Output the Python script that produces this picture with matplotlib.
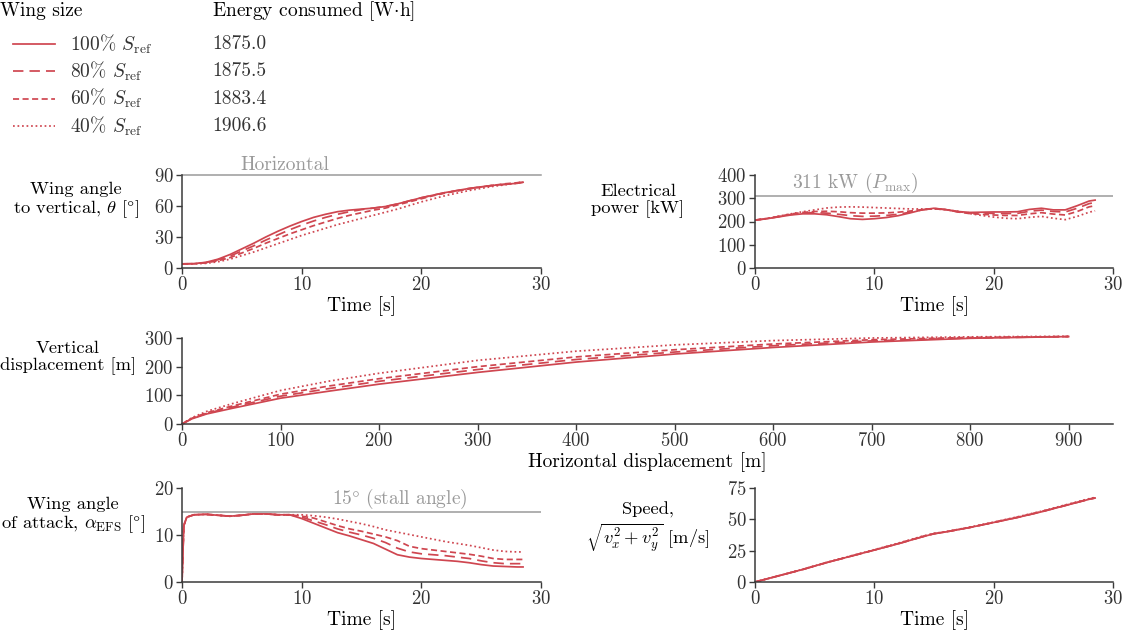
import matplotlib
matplotlib.use("Agg")
import matplotlib.pyplot as plt
from matplotlib.lines import Line2D

plt.rcParams['font.family'] = ['cmr10', 'DejaVu Serif']
plt.rcParams['mathtext.fontset'] = 'cm'
plt.rcParams['axes.formatter.use_mathtext'] = True

# ---- data ----
wing_labels = ['100%', '80%', '60%', '40%']
energy_wh = ['1875.0', '1875.5', '1883.4', '1906.6']

t = [0, 1, 2, 3, 4, 5, 6, 7, 8, 9, 10, 11, 12, 13, 14, 15, 16, 17, 18, 19,
     20, 21, 22, 23, 24, 25, 26, 27, 28, 28.5]

theta_100 = [4, 4.2, 5.5, 8.5, 13, 18.5, 24, 30, 35.5, 40.5, 45, 49, 52, 54.5, 56, 57,
             58, 59.5, 62, 65, 68, 70.5, 73, 75, 77, 78.5, 80, 81, 82, 83]
theta_80 = [4, 4.2, 5.2, 8, 11.5, 16.5, 21.5, 27, 32, 37, 41.5, 45.5, 49, 52, 54.5, 56.5,
            58, 59.5, 62, 65, 68, 70.5, 73, 75, 77, 78.5, 80, 81, 82, 83]
theta_60 = [4, 4.1, 5, 7, 10, 14.5, 19, 24, 28.5, 33, 37, 41, 44.5, 48, 51, 53.5,
            56, 58, 61, 64, 67, 70, 72.5, 74.5, 76.5, 78.5, 80, 81.5, 82.5, 83.5]
theta_40 = [4, 4, 4.5, 6, 8.5, 12, 15.5, 19.5, 23.5, 27.5, 31.5, 35, 38.5, 42, 45, 48,
            51, 54, 57, 60.5, 64, 67, 70, 72.5, 75, 77, 79, 80.5, 82, 83.5]

power_100 = [206, 212, 220, 228, 233, 233, 229, 221, 212, 209, 212, 217, 225, 237, 250, 257,
             251, 243, 239, 240, 241, 241, 242, 252, 257, 250, 250, 268, 288, 292]
power_80 = [206, 212, 221, 230, 236, 238, 236, 231, 225, 222, 223, 226, 231, 240, 250, 256,
            251, 242, 237, 236, 235, 234, 235, 244, 249, 243, 241, 257, 277, 282]
power_60 = [206, 213, 222, 232, 239, 243, 244, 242, 238, 236, 236, 237, 240, 245, 251, 255,
            251, 241, 234, 231, 228, 226, 226, 233, 238, 232, 228, 243, 263, 268]
power_40 = [206, 213, 223, 233, 242, 250, 258, 262, 263, 262, 260, 258, 256, 254, 254, 254,
            251, 244, 234, 226, 219, 214, 212, 218, 222, 214, 208, 222, 240, 246]

x_disp = [0, 10, 25, 50, 100, 150, 200, 300, 400, 500, 600, 700, 800, 900]
y_disp_100 = [0, 18, 35, 54, 90, 115, 139, 180, 216, 244, 267, 286, 299, 305]
y_disp_80 = [0, 19, 37, 58, 97, 124, 149, 190, 225, 251, 273, 290, 300, 305]
y_disp_60 = [0, 20, 39, 62, 104, 133, 158, 200, 234, 259, 279, 294, 302, 305]
y_disp_40 = [0, 22, 44, 70, 117, 150, 177, 222, 254, 276, 291, 300, 304, 306]

t_aoa = [0, 0.15, 0.4, 1, 2, 3, 4, 5, 6, 7, 8, 9, 10, 11, 12, 13, 14, 15, 16, 17, 18,
         19, 20, 21, 22, 23, 24, 25, 26, 27, 28, 28.5]
aoa_start = [0, 12, 13.8, 14.3, 14.4, 14.2, 14.0, 14.2, 14.5, 14.5, 14.3, 14.3]
aoa_100 = aoa_start + [13.5, 12.5, 11.5, 10.5, 9.8, 9.0, 8.2, 7.0, 5.8, 5.3, 5.0, 4.8,
                       4.6, 4.4, 4.1, 3.7, 3.4, 3.3, 3.2, 3.2]
aoa_80 = aoa_start + [13.8, 13.0, 12.2, 11.3, 10.6, 10.0, 9.3, 8.4, 7.2, 6.4, 6.0, 5.8,
                      5.6, 5.3, 5.0, 4.5, 4.1, 3.9, 3.9, 3.9]
aoa_60 = aoa_start + [14.0, 13.6, 12.8, 12.0, 11.3, 10.8, 10.2, 9.6, 8.8, 7.6, 7.1, 6.8,
                      6.5, 6.2, 5.9, 5.5, 5.0, 4.8, 4.8, 4.8]
aoa_40 = aoa_start + [14.3, 14.1, 13.8, 13.4, 12.9, 12.4, 11.8, 11.1, 10.6, 10.1, 9.6, 9.1,
                      8.6, 8.2, 7.8, 7.3, 6.8, 6.5, 6.4, 6.4]

t_speed = [0, 2, 4, 6, 8, 10, 12, 14, 15, 16, 18, 20, 22, 24, 26, 28, 28.5]
speed_100 = [0, 5, 10, 15.5, 20.5, 25.5, 30.5, 36, 38.5, 40, 43.5, 47.5, 51.5, 56, 61, 66, 67]
speed_80 = [0, 5, 10, 15.5, 20.5, 25.5, 30.5, 36, 38.5, 40, 43.5, 47.5, 51.5, 56, 61, 66, 67]
speed_60 = [0, 5, 10, 15.5, 20.5, 25.5, 30.7, 36.2, 38.6, 40, 43.5, 47.5, 51.7, 56.2, 61.2, 66.2, 67.2]
speed_40 = [0, 5, 10.2, 15.7, 20.8, 25.8, 31, 36.5, 38.8, 40.2, 43.8, 47.8, 52, 56.5, 61.5, 66.5, 67.5]

# ---- style ----
red = '#cf4650'
grey = '#9a9a9a'
dark = '#3a3a3a'
styles = ['-', (0, (6, 3.5)), (0, (3.5, 2)), (0, (1, 1.6))]
lw = 1.25
W, H = 1128, 636
fs = 14


def box(l, t_, r, b):
    return [l / W, 1 - b / H, (r - l) / W, (b - t_) / H]


def style_ax(ax):
    for s in ['top', 'right']:
        ax.spines[s].set_visible(False)
    for s in ['left', 'bottom']:
        ax.spines[s].set_color(dark)
        ax.spines[s].set_linewidth(1.1)
    ax.tick_params(colors=dark, labelcolor='#333333', labelsize=13.5, length=4, width=1, pad=2)


fig = plt.figure(figsize=(W / 100, H / 100), dpi=100)

ax_theta = fig.add_axes(box(182, 175, 541, 268))
ax_power = fig.add_axes(box(755, 175, 1113, 268))
ax_disp = fig.add_axes(box(182, 338, 1113, 424))
ax_aoa = fig.add_axes(box(182, 488, 541, 582))
ax_speed = fig.add_axes(box(755, 488, 1113, 582))

for ys, ls in zip([theta_100, theta_80, theta_60, theta_40], styles):
    ax_theta.plot(t, ys, color=red, ls=ls, lw=lw)
for ys, ls in zip([power_100, power_80, power_60, power_40], styles):
    ax_power.plot(t, ys, color=red, ls=ls, lw=lw)
for ys, ls in zip([y_disp_100, y_disp_80, y_disp_60, y_disp_40], styles):
    ax_disp.plot(x_disp, ys, color=red, ls=ls, lw=lw, clip_on=False)
for ys, ls in zip([aoa_100, aoa_80, aoa_60, aoa_40], styles):
    ax_aoa.plot(t_aoa, ys, color=red, ls=ls, lw=lw)
for ys, ls in zip([speed_100, speed_80, speed_60, speed_40], styles):
    ax_speed.plot(t_speed, ys, color=red, ls=ls, lw=lw)

# reference lines
ax_theta.axhline(90, color=grey, lw=1.1, clip_on=False)
ax_theta.text(8.6, 90.5, 'Horizontal', color=grey, ha='center', va='bottom', fontsize=fs)
ax_power.axhline(311, color=grey, lw=1.1)
ax_power.text(8.4, 312, r'311 kW ($P_{\rm max}$)', color=grey, ha='center', va='bottom', fontsize=fs)
ax_aoa.axhline(15, color=grey, lw=1.1)
ax_aoa.text(18.2, 15.2, r'15$\degree$ (stall angle)', color=grey, ha='center', va='bottom', fontsize=fs)

ax_theta.set_ylim(0, 90)
ax_theta.set_yticks([0, 30, 60, 90])
ax_power.set_ylim(0, 400)
ax_power.set_yticks([0, 100, 200, 300, 400])
ax_disp.set_xlim(0, 945)
ax_disp.set_ylim(0, 300)
ax_disp.set_xticks(range(0, 901, 100))
ax_disp.set_yticks([0, 100, 200, 300])
ax_aoa.set_ylim(0, 20)
ax_aoa.set_yticks([0, 10, 20])
ax_speed.set_ylim(0, 75)
ax_speed.set_yticks([0, 25, 50, 75])

for ax in [ax_theta, ax_power, ax_aoa, ax_speed]:
    ax.set_xlim(0, 30)
    ax.set_xticks([0, 10, 20, 30])
    ax.set_xlabel('Time [s]', fontsize=fs, labelpad=1)
ax_disp.set_xlabel('Horizontal displacement [m]', fontsize=fs, labelpad=1)
for ax in [ax_theta, ax_power, ax_disp, ax_aoa, ax_speed]:
    style_ax(ax)

# horizontal y labels
ylab_kw = dict(ha='center', va='center', multialignment='center', fontsize=13.3, linespacing=1.12)
fig.text(76 / W, 1 - 201 / H, 'Wing angle\nto vertical, $\\theta$ [$\\degree$]', **ylab_kw)
fig.text(638 / W, 1 - 201 / H, 'Electrical\npower [kW]', **ylab_kw)
fig.text(68 / W, 1 - 358 / H, 'Vertical\ndisplacement [m]', **ylab_kw)
fig.text(73 / W, 1 - 516 / H, 'Wing angle\nof attack, $\\alpha_{\\rm EFS}$ [$\\degree$]', **ylab_kw)
fig.text(648 / W, 1 - 528 / H, 'Speed,\n$\\sqrt{v_x^2 + v_y^2}$ [m/s]', **ylab_kw)

# legend-like table at top
fig.text(0 / W, 1 - 11 / H, 'Wing size', ha='left', va='center', fontsize=fs)
fig.text(212 / W, 1 - 11 / H, r'Energy consumed [W$\cdot$h]', ha='left', va='center', fontsize=fs)
for i, (lab, en, ls) in enumerate(zip(wing_labels, energy_wh, styles)):
    yy = 1 - (44 + 27.3 * i) / H
    fig.add_artist(Line2D([13 / W, 55 / W], [yy, yy], color=red, ls=ls, lw=lw))
    fig.text(70 / W, yy, lab + r' $S_{\rm ref}$', ha='left', va='center', fontsize=fs, color='#333333')
    fig.text(212 / W, yy, en, ha='left', va='center', fontsize=fs, color='#333333')

fig.savefig('out.png', dpi=100)
